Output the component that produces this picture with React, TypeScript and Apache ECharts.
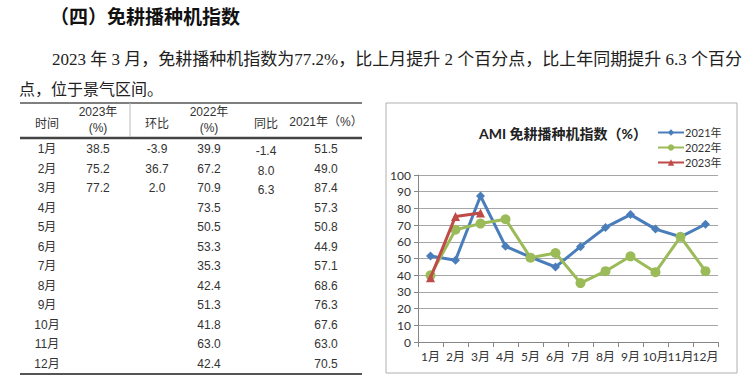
import React, { useEffect, useRef } from "react";
import * as echarts from "echarts";

const months = ["1月", "2月", "3月", "4月", "5月", "6月", "7月", "8月", "9月", "10月", "11月", "12月"];
const v2021 = [51.5, 49.0, 87.4, 57.3, 50.8, 44.9, 57.1, 68.6, 76.3, 67.6, 63.0, 70.5];
const v2022 = [39.9, 67.2, 70.9, 73.5, 50.5, 53.3, 35.3, 42.4, 51.3, 41.8, 63.0, 42.4];
const v2023 = [38.5, 75.2, 77.2];
const mom2023 = [-3.9, 36.7, 2.0];
const yoy2023 = [-1.4, 8.0, 6.3];
const seriesNames = ["2021年", "2022年", "2023年"];

const heading = "（四）免耕播种机指数";
const paraLine1 = "2023 年 3 月，免耕播种机指数为77.2%，比上月提升 2 个百分点，比上年同期提升 6.3 个百分";
const paraLine2 = "点，位于景气区间。";
const chartTitle = "AMI 免耕播种机指数（%）";

const CJK = "'Noto Sans CJK SC', sans-serif";
const SERIF = "'Liberation Serif', 'Noto Sans CJK SC', serif";
const TBL = "'Liberation Sans Narrow', 'Liberation Sans', 'Noto Sans CJK SC', sans-serif";
const XL = "Lato, 'Noto Sans CJK SC', sans-serif";

export default function App() {
  const ref = useRef<HTMLDivElement>(null);
  useEffect(() => {
    if (!ref.current) return;
    const chart = echarts.init(ref.current, null, { renderer: "svg" });

    const txt = (text: string, x: number, y: number, opts: any = {}) => ({
      type: "text",
      x,
      y,
      silent: true,
      style: {
        text,
        fill: opts.fill || "#333",
        fontSize: opts.fontSize || 12,
        fontFamily: opts.fontFamily || TBL,
        fontWeight: opts.fontWeight || "normal",
        align: opts.align || "center",
        verticalAlign: "middle",
      },
    });

    const colX = { time: 47, y23: 98, mom: 157, y22: 209, yoy: 266, y21: 326 };
    const rowY = (i: number) => 149 + i * 19.5;
    const fmt = (v: number) => v.toFixed(1);

    const graphics: any[] = [];
    graphics.push(txt(heading, 50, 15, { fontSize: 19, fontWeight: "bold", fontFamily: CJK, align: "left", fill: "#111" }));
    graphics.push(txt(paraLine1, 52, 59, { fontSize: 17, fontFamily: SERIF, align: "left", fill: "#222" }));
    graphics.push(txt(paraLine2, 19, 89, { fontSize: 16, fontFamily: SERIF, align: "left", fill: "#222" }));

    // table rules
    graphics.push({ type: "line", silent: true, shape: { x1: 20, y1: 103, x2: 362, y2: 103 }, style: { stroke: "#555", lineWidth: 1.5 } });
    graphics.push({ type: "line", silent: true, shape: { x1: 20, y1: 138, x2: 362, y2: 138 }, style: { stroke: "#444", lineWidth: 2.5 } });
    graphics.push({ type: "line", silent: true, shape: { x1: 20, y1: 374, x2: 362, y2: 374 }, style: { stroke: "#555", lineWidth: 2 } });
    graphics.push({ type: "line", silent: true, shape: { x1: 130, y1: 103, x2: 130, y2: 137 }, style: { stroke: "#bbb", lineWidth: 1 } });

    // table header
    graphics.push(txt("时间", colX.time, 122, { fontFamily: CJK }));
    graphics.push(txt("2023年", colX.y23, 112));
    graphics.push(txt("(%)", colX.y23, 128));
    graphics.push(txt("环比", colX.mom, 122, { fontFamily: CJK }));
    graphics.push(txt("2022年", colX.y22, 112));
    graphics.push(txt("(%)", colX.y22, 128));
    graphics.push(txt("同比", colX.yoy, 122, { fontFamily: CJK }));
    graphics.push(txt("2021年（%）", colX.y21, 122));

    months.forEach((m, i) => {
      const y = rowY(i);
      graphics.push(txt(m, colX.time, y));
      if (i < v2023.length) {
        graphics.push(txt(fmt(v2023[i]), colX.y23, y));
        graphics.push(txt(fmt(mom2023[i]), colX.mom, y));
        graphics.push(txt(fmt(yoy2023[i]), colX.yoy, y + 2));
      }
      graphics.push(txt(fmt(v2022[i]), colX.y22, y));
      graphics.push(txt(fmt(v2021[i]), colX.y21, y));
    });

    // chart frame
    graphics.push({ type: "rect", silent: true, shape: { x: 386, y: 103, width: 351, height: 270 }, style: { fill: "none", stroke: "#b0b0b0", lineWidth: 1 } });

    const colors = ["#4a7ebb", "#9bbb59", "#be4b48"];
    const symbols = ["diamond", "circle", "triangle"];
    const dataSets = [v2021, v2022, v2023];

    chart.setOption({
      animation: false,
      backgroundColor: "#fff",
      title: {
        text: chartTitle,
        left: 479,
        top: 126,
        padding: 0,
        textStyle: { fontSize: 14, fontWeight: "bold", color: "#222", fontFamily: XL },
      },
      legend: {
        orient: "vertical",
        left: 657,
        top: 127,
        itemWidth: 26,
        itemHeight: 8,
        itemGap: 4,
        padding: 0,
        data: seriesNames,
        textStyle: { fontSize: 11, color: "#333", fontFamily: XL, padding: [0, 0, 0, -4] },
      },
      grid: { left: 418, right: 32, top: 175, bottom: 42, containLabel: false },
      xAxis: {
        type: "category",
        data: months,
        boundaryGap: true,
        axisLine: { lineStyle: { color: "#868686" } },
        axisTick: { show: true, length: 5, lineStyle: { color: "#868686" } },
        axisLabel: { interval: 0, fontSize: 12, color: "#333", fontFamily: XL, margin: 8 },
      },
      yAxis: {
        type: "value",
        min: 0,
        max: 100,
        interval: 10,
        axisLine: { show: true, lineStyle: { color: "#868686" } },
        axisTick: { show: true, length: 4, lineStyle: { color: "#868686" } },
        axisLabel: { fontSize: 12, color: "#333", fontFamily: XL, margin: 7 },
        splitLine: { lineStyle: { color: "#a6a6a6" } },
      },
      series: seriesNames.map((name, i) => ({
        name,
        type: "line",
        data: dataSets[i],
        symbol: symbols[i],
        symbolSize: i === 1 ? 10 : 9,
        showSymbol: true,
        lineStyle: { color: colors[i], width: 3 },
        itemStyle: { color: colors[i] },
        z: 2 + i,
      })),
      graphic: { elements: graphics },
    });

    return () => chart.dispose();
  }, []);

  return <div ref={ref} style={{ position: "fixed", left: 0, top: 0, width: 750, height: 384 }} />;
}
